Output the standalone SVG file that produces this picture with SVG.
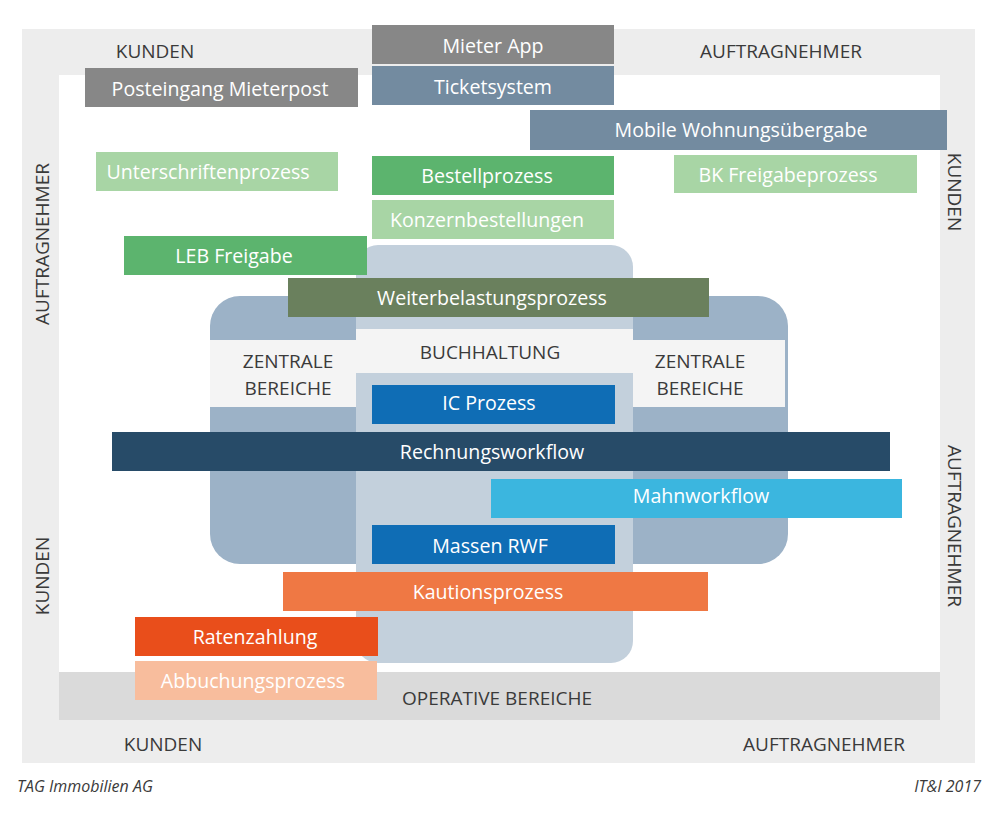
<svg xmlns="http://www.w3.org/2000/svg" width="1000" height="813" viewBox="0 0 1000 813">
<style>
text{font-family:"Open Sans","Liberation Sans",sans-serif;}
.w{fill:#ffffff;font-size:19.6px;text-anchor:middle;}
.d{fill:#3a3a3a;font-size:19px;text-anchor:middle;}
.f{fill:#3a3a3a;font-size:16px;font-style:italic;}
</style>
<rect width="1000" height="813" fill="#ffffff"/>
<g id="frame">
<rect x="22" y="29" width="953" height="734" fill="#ededed"/>
<rect x="59" y="75" width="881" height="597" fill="#ffffff"/>
</g>
<g id="operative">
<rect x="59" y="672" width="881" height="48" fill="#dadada"/>
<text class="d" x="497" y="705">OPERATIVE BEREICHE</text>
</g>
<g id="zentrale">
<rect x="210" y="296" width="578" height="268" rx="30" fill="#9cb2c7"/>
</g>
<g id="buchhaltung-area">
<rect x="356" y="245" width="277" height="418" rx="22" fill="#c3d0dc"/>
</g>
<g id="zentrale-left">
<rect x="210" y="340" width="146" height="67" fill="#f4f4f4"/>
<text class="d" x="288" y="368">ZENTRALE</text>
<text class="d" x="288" y="395">BEREICHE</text>
</g>
<g id="zentrale-right">
<rect x="633" y="340" width="152" height="67" fill="#f4f4f4"/>
<text class="d" x="700" y="368">ZENTRALE</text>
<text class="d" x="700" y="395">BEREICHE</text>
</g>
<g id="buchhaltung">
<rect x="356" y="329" width="277" height="44" fill="#f4f4f4"/>
<text class="d" x="490" y="359">BUCHHALTUNG</text>
</g>
<g id="labels">
<text class="d" x="155" y="58">KUNDEN</text>
<text class="d" x="781" y="58">AUFTRAGNEHMER</text>
<text class="d" x="163" y="751">KUNDEN</text>
<text class="d" x="824" y="751">AUFTRAGNEHMER</text>
<text class="d" transform="translate(49 244) rotate(-90)">AUFTRAGNEHMER</text>
<text class="d" transform="translate(49 576) rotate(-90)">KUNDEN</text>
<text class="d" transform="translate(948 192) rotate(90)">KUNDEN</text>
<text class="d" transform="translate(948 526) rotate(90)">AUFTRAGNEHMER</text>
</g>
<g id="mieter-app">
<rect x="372" y="25" width="242" height="39" fill="#878787"/>
<text class="w" x="493" y="53">Mieter App</text>
</g>
<g id="ticketsystem">
<rect x="372" y="66" width="242" height="39" fill="#738ba0"/>
<text class="w" x="493" y="94">Ticketsystem</text>
</g>
<g id="posteingang">
<rect x="85" y="68" width="273" height="39" fill="#878787"/>
<text class="w" x="220" y="96">Posteingang Mieterpost</text>
</g>
<g id="mobile">
<rect x="530" y="110" width="417" height="40" fill="#738ba0"/>
<text class="w" x="741" y="137">Mobile Wohnungsübergabe</text>
</g>
<g id="unterschriften">
<rect x="96" y="152" width="242" height="39" fill="#a8d5a5"/>
<text class="w" x="208" y="179">Unterschriftenprozess</text>
</g>
<g id="bestell">
<rect x="372" y="156" width="242" height="39" fill="#5cb46e"/>
<text class="w" x="487" y="183">Bestellprozess</text>
</g>
<g id="bk-freigabe">
<rect x="674" y="155" width="243" height="38" fill="#a8d5a5"/>
<text class="w" x="788" y="182">BK Freigabeprozess</text>
</g>
<g id="konzern">
<rect x="372" y="200" width="242" height="39" fill="#a8d5a5"/>
<text class="w" x="487" y="227">Konzernbestellungen</text>
</g>
<g id="leb">
<rect x="124" y="236" width="243" height="39" fill="#5cb46e"/>
<text class="w" x="234" y="263">LEB Freigabe</text>
</g>
<g id="weiterbelastung">
<rect x="288" y="278" width="421" height="39" fill="#6a805d"/>
<text class="w" x="492" y="305">Weiterbelastungsprozess</text>
</g>
<g id="ic">
<rect x="372" y="385" width="243" height="39" fill="#0f6db5"/>
<text class="w" x="489" y="410">IC Prozess</text>
</g>
<g id="rechnung">
<rect x="112" y="432" width="778" height="39" fill="#274b68"/>
<text class="w" x="492" y="459">Rechnungsworkflow</text>
</g>
<g id="mahn">
<rect x="491" y="479" width="411" height="39" fill="#3bb6df"/>
<text class="w" x="701" y="503">Mahnworkflow</text>
</g>
<g id="massen">
<rect x="372" y="525" width="243" height="39" fill="#0f6db5"/>
<text class="w" x="490" y="553">Massen RWF</text>
</g>
<g id="kaution">
<rect x="283" y="572" width="425" height="39" fill="#ef7844"/>
<text class="w" x="488" y="599">Kautionsprozess</text>
</g>
<g id="raten">
<rect x="135" y="617" width="243" height="39" fill="#e94e1b"/>
<text class="w" x="255" y="644">Ratenzahlung</text>
</g>
<g id="abbuchung">
<rect x="135" y="661" width="242" height="39" fill="#f8bd9d"/>
<text class="w" x="253" y="688">Abbuchungsprozess</text>
</g>
<g id="footer">
<text class="f" x="17" y="792">TAG Immobilien AG</text>
<text class="f" x="981" y="792" text-anchor="end">IT&amp;I 2017</text>
</g>
</svg>
